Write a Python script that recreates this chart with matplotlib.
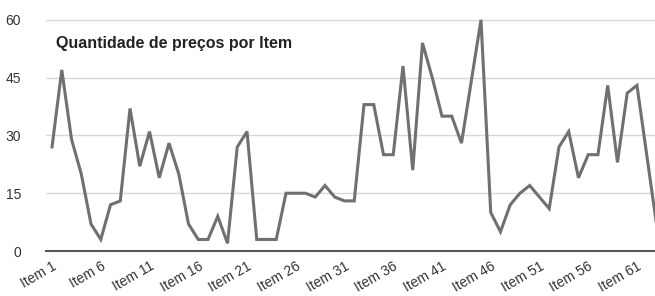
import matplotlib.pyplot as plt

# =========================
# DATA
# =========================
items = [f"Item {i}" for i in range(1, 64)]
quantidade = [27, 47, 29, 20, 7, 3, 12, 13, 37, 22,
              31, 19, 28, 20, 7, 3, 3, 9, 2, 27,
              31, 3, 3, 3, 15, 15, 15, 14, 17, 14,
              13, 13, 38, 38, 25, 25, 48, 21, 54, 45,
              35, 35, 28, 44, 60, 10, 5, 12, 15, 17,
              14, 11, 27, 31, 19, 25, 25, 43, 23, 41,
              43, 25, 7]
yticks = [0, 15, 30, 45, 60]

plt.rcParams["font.family"] = ["Liberation Sans", "DejaVu Sans"]

# =========================
# PLOT
# =========================
fig = plt.figure(figsize=(6.55, 2.96), dpi=100)
ax = fig.add_axes([0.0702, 0.152, 0.9298, 0.794])

x = list(range(len(items)))
ax.plot(x, quantidade, color="#707070", linewidth=2.2, solid_joinstyle="miter")

ax.set_xlim(-0.62, 61.85)
ax.set_ylim(0, 61)
ax.set_yticks(yticks)
ax.set_xticks(x[::5])
ax.set_xticklabels(items[::5], rotation=30, ha="right", rotation_mode="anchor",
                   fontsize=10, color="#333333")
ax.tick_params(axis="y", length=0, pad=18, labelsize=10, labelcolor="#333333")
ax.tick_params(axis="x", length=0, pad=6)

ax.grid(axis="y", color="#d8d8d8", linewidth=1)
ax.set_axisbelow(True)
for side in ["top", "right", "left"]:
    ax.spines[side].set_visible(False)
ax.spines["bottom"].set_color("#555555")
ax.spines["bottom"].set_linewidth(1.5)

ax.text(0.017, 0.885, "Quantidade de preços por Item", transform=ax.transAxes,
        fontsize=11.5, fontweight="bold", color="#222222", va="center")

fig.savefig("out.png", dpi=100)
